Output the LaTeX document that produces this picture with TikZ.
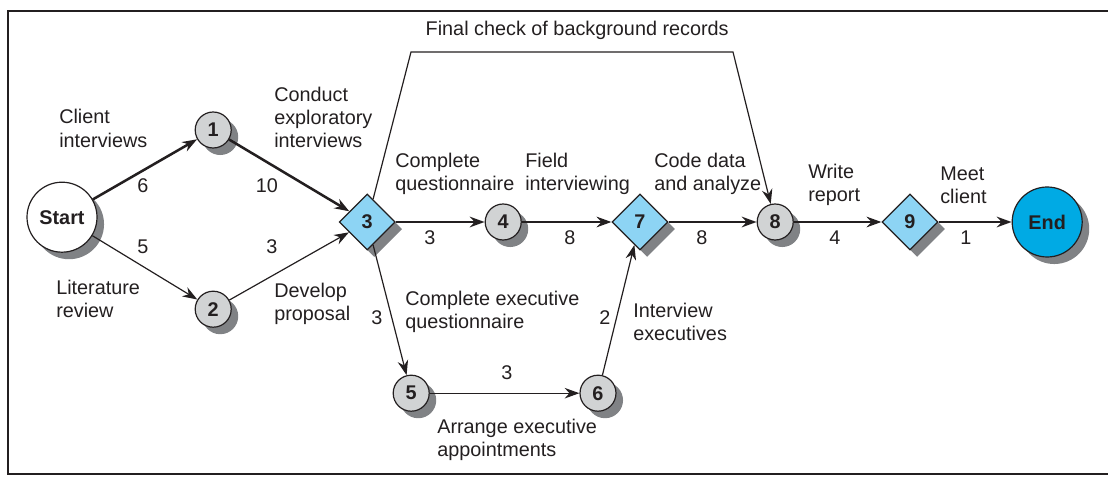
\documentclass[tikz,border=0pt]{standalone}
\usepackage{fontspec}
\setmainfont{Liberation Sans}
\usetikzlibrary{shapes.geometric,shadows,arrows.meta}

\definecolor{ink}{RGB}{35,31,32}
\definecolor{evgray}{RGB}{209,211,212}
\definecolor{evblue}{RGB}{141,212,244}
\definecolor{endblue}{RGB}{0,170,228}
\definecolor{shade}{RGB}{128,130,133}
\newcommand{\netfont}{\fontsize{14.1}{16.4}\selectfont}

\begin{document}
\begin{tikzpicture}[
  shadowed/.style={drop shadow={shadow xshift=5pt, shadow yshift=-5pt,
                   fill=shade, opacity=1}},
  event/.style={circle, draw=ink, line width=0.85pt, fill=evgray, inner sep=0pt,
                minimum size=0.9cm, font=\netfont\bfseries, text=ink, shadowed},
  merge/.style={diamond, draw=ink, line width=0.85pt, fill=evblue, inner sep=0pt,
                minimum width=1.4cm, minimum height=1.4cm, font=\netfont\bfseries,
                text=ink, shadowed},
  terminal/.style={circle, draw=ink, line width=0.85pt, fill=white, inner sep=0pt,
                   minimum size=1.75cm, font=\netfont\bfseries, text=ink, shadowed},
  crit/.style={-{Stealth[length=10.5pt, width=7.5pt]}, line width=1.8pt, draw=ink},
  slack/.style={-{Stealth[length=10.5pt, width=7.5pt]}, line width=0.85pt, draw=ink},
  task/.style={font=\netfont, text=ink, align=left, anchor=west, inner sep=0pt},
  dur/.style={font=\netfont, text=ink, inner sep=0pt},
  frame/.style={line width=1.8pt, draw=ink},
]
  \useasboundingbox (0,-6.375) rectangle (27.7,5.55);

  % Frame
  \draw[frame] (27.8,5.275) -- (0.2,5.275) -- (0.2,-6.3) -- (27.8,-6.3);

  % Events
  \node[terminal] (start) at (1.55, 0.12) {Start};
  \node[event] (e1) at (5.33, 2.3) {1};
  \node[event] (e2) at (5.33, -2.18) {2};
  \node[merge] (e3) at (9.18, 0) {3};
  \node[event] (e4) at (12.58, 0) {4};
  \node[merge] (e7) at (16.0, 0) {7};
  \node[event] (e8) at (19.38, 0) {8};
  \node[merge] (e9) at (22.75, 0) {9};
  \node[terminal, fill=endblue] (end) at (26.18, 0) {End};
  \node[event] (e5) at (10.28, -4.28) {5};
  \node[event] (e6) at (14.95, -4.28) {6};

  % Bend points of the background check
  \coordinate (chkL) at (10.275, 4.25);
  \coordinate (chkR) at (18.325, 4.25);

  % Critical path
  \draw[crit] (start) -- (e1);
  \draw[crit] (e1) -- (e3);
  \draw[crit] (e3) -- (e4);
  \draw[crit] (e4) -- (e7);
  \draw[crit] (e7) -- (e8);
  \draw[crit] (e8) -- (e9);
  \draw[crit] (e9) -- (end);

  % Other activities
  \draw[slack] (start) -- (e2);
  \draw[slack] (e2) -- (e3);
  \draw[slack] (e3) -- (e5);
  \draw[slack] (e5) -- (e6);
  \draw[slack] (e6) -- (e7);
  \draw[slack] (e3) -- (chkL) -- (chkR) -- (e8);

  % Activity names
  \node[task] at (1.475, 2.34) {Client\\interviews};
  \node[task] at (1.4, -1.93) {Literature\\review};
  \node[task] at (6.85, 2.61) {Conduct\\exploratory\\interviews};
  \node[task] at (6.85, -2.04) {Develop\\proposal};
  \node[task] at (9.875, 1.2) {Complete\\questionnaire};
  \node[task] at (13.125, 1.2) {Field\\interviewing};
  \node[task] at (16.35, 1.2) {Code data\\and analyze};
  \node[task] at (20.2, 0.925) {Write\\report};
  \node[task] at (23.5, 0.925) {Meet\\client};
  \node[task] at (10.125, -2.24) {Complete executive\\questionnaire};
  \node[task] at (10.925, -5.44) {Arrange executive\\appointments};
  \node[task] at (15.825, -2.5) {Interview\\executives};
  \node[dur] at (14.43, 4.8) {Final check of background records};

  % Durations
  \node[dur] at (3.575, 0.9) {6};
  \node[dur] at (3.575, -0.625) {5};
  \node[dur] at (6.675, 0.9) {10};
  \node[dur] at (6.8, -0.625) {3};
  \node[dur] at (9.425, -2.4) {3};
  \node[dur] at (10.75, -0.4) {3};
  \node[dur] at (14.25, -0.4) {8};
  \node[dur] at (17.55, -0.4) {8};
  \node[dur] at (20.875, -0.4) {4};
  \node[dur] at (24.15, -0.4) {1};
  \node[dur] at (12.675, -3.775) {3};
  \node[dur] at (15.125, -2.4) {2};
\end{tikzpicture}
\end{document}
